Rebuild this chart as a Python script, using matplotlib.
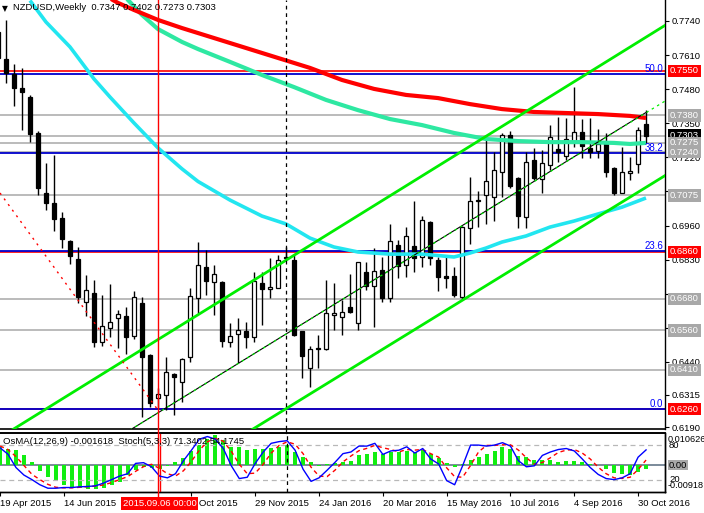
import matplotlib
matplotlib.use('Agg')
import matplotlib.pyplot as plt
import matplotlib.transforms as mtransforms
from matplotlib.lines import Line2D
import numpy as np
import pandas as pd

plt.rcParams['font.family'] = ['Liberation Sans', 'DejaVu Sans']

# ---------------- data ----------------
symbol_title = 'NZDUSD,Weekly  0.7347 0.7402 0.7273 0.7303'
ind_title = 'OsMA(12,26,9) -0.001618  Stoch(5,3,3) 71.3402 54.1745'
first_week = '2015-04-19'

opens = [0.7698,
         0.7595, 0.7538, 0.7484, 0.7450, 0.7313, 0.7084, 0.7046, 0.6989, 0.6901, 0.6832,
         0.6668, 0.6702, 0.6516, 0.6569, 0.6607, 0.6615, 0.6538, 0.6664, 0.6466, 0.6302,
         0.6313, 0.6394, 0.6363, 0.6458, 0.6683, 0.6802, 0.6744, 0.6744, 0.6516, 0.6546,
         0.6558, 0.6535, 0.6741, 0.6718, 0.6722, 0.6840, 0.6828, 0.6558, 0.6416, 0.6493,
         0.6489, 0.6619, 0.6611, 0.6649, 0.6588, 0.6783, 0.6729, 0.6790, 0.6683, 0.6886,
         0.6809, 0.6882, 0.6840, 0.6973, 0.6828, 0.6767, 0.6767, 0.6687, 0.6950, 0.7053,
         0.7076, 0.7069, 0.7164, 0.7305, 0.7141, 0.6992, 0.7210, 0.7137, 0.7191, 0.7252,
         0.7225, 0.7278, 0.7317, 0.7256, 0.7244, 0.7275, 0.7179, 0.7084, 0.7160, 0.7195,
         0.7347]
highs = [0.7713,
         0.7744, 0.7576, 0.7561, 0.7458, 0.7320, 0.7198, 0.7229, 0.7011, 0.6905, 0.6878,
         0.6771, 0.6752, 0.6695, 0.6737, 0.6638, 0.6649, 0.6710, 0.6687, 0.6470, 0.6340,
         0.6458, 0.6397, 0.6455, 0.6722, 0.6897, 0.6866, 0.6809, 0.6750, 0.6588, 0.6607,
         0.6592, 0.6783, 0.6783, 0.6836, 0.6847, 0.6878, 0.6847, 0.6558, 0.6500, 0.6542,
         0.6752, 0.6741, 0.6676, 0.6775, 0.6821, 0.6821, 0.6874, 0.6840, 0.6966, 0.6905,
         0.6954, 0.7053, 0.6996, 0.6977, 0.6840, 0.6840, 0.6802, 0.6958, 0.7145, 0.7092,
         0.7301, 0.7240, 0.7313, 0.7320, 0.7145, 0.7240, 0.7256, 0.7248, 0.7343, 0.7374,
         0.7370, 0.7488, 0.7366, 0.7370, 0.7328, 0.7313, 0.7183, 0.7259, 0.7221, 0.7336,
         0.7402]
lows = [0.7591,
        0.7503, 0.7416, 0.7324, 0.7278, 0.7076, 0.7019, 0.6939, 0.6874, 0.6813, 0.6664,
        0.6615, 0.6497, 0.6500, 0.6535, 0.6493, 0.6470, 0.6527, 0.6230, 0.6268, 0.6264,
        0.6256, 0.6237, 0.6287, 0.6439, 0.6626, 0.6695, 0.6619, 0.6497, 0.6497, 0.6436,
        0.6493, 0.6516, 0.6580, 0.6683, 0.6722, 0.6828, 0.6538, 0.6378, 0.6344, 0.6416,
        0.6485, 0.6561, 0.6542, 0.6626, 0.6561, 0.6714, 0.6573, 0.6668, 0.6668, 0.6760,
        0.6764, 0.6783, 0.6802, 0.6809, 0.6710, 0.6722, 0.6687, 0.6676, 0.6889, 0.6954,
        0.6966, 0.6977, 0.7069, 0.7103, 0.6950, 0.6950, 0.7134, 0.7084, 0.7172, 0.7202,
        0.7210, 0.7259, 0.7217, 0.7217, 0.7217, 0.7145, 0.7076, 0.7084, 0.7134, 0.7160,
        0.7273]
closes = [0.7599,
          0.7542, 0.7484, 0.7469, 0.7309, 0.7103, 0.7046, 0.6985, 0.6908, 0.6844, 0.6687,
          0.6714, 0.6516, 0.6577, 0.6592, 0.6622, 0.6535, 0.6687, 0.6458, 0.6283, 0.6317,
          0.6401, 0.6382, 0.6451, 0.6691, 0.6809, 0.6748, 0.6775, 0.6519, 0.6539, 0.6561,
          0.6535, 0.6748, 0.6718, 0.6725, 0.6828, 0.6836, 0.6542, 0.6462, 0.6489, 0.6489,
          0.6626, 0.6626, 0.6630, 0.6630, 0.6821, 0.6729, 0.6786, 0.6683, 0.6901, 0.6805,
          0.6920, 0.6836, 0.6981, 0.6836, 0.6764, 0.6760, 0.6695, 0.6954, 0.7053, 0.7057,
          0.7130, 0.7172, 0.7305, 0.7111, 0.6996, 0.7202, 0.7141, 0.7198, 0.7297, 0.7240,
          0.7290, 0.7317, 0.7263, 0.7240, 0.7271, 0.7164, 0.7084, 0.7164, 0.7168, 0.7324,
          0.7303]

osma = [0.0058,
        0.0052, 0.0049, 0.0032, 0.0009, -0.0020, -0.0041, -0.0056, -0.0067, -0.0075, -0.0079,
        -0.0081, -0.0081, -0.0078, -0.0069, -0.0058, -0.0035, -0.0017, -0.0008, -0.0012, -0.0015,
        -0.0003, 0.0008, 0.0023, 0.0046, 0.0067, 0.0087, 0.0101, 0.0083, 0.0060, 0.0058,
        0.0049, 0.0052, 0.0054, 0.0056, 0.0060, 0.0067, 0.0044, 0.0025, 0.0008, -0.0006,
        0.0002, 0.0006, 0.0008, 0.0012, 0.0031, 0.0037, 0.0043, 0.0035, 0.0043, 0.0041,
        0.0046, 0.0044, 0.0049, 0.0035, 0.0021, 0.0006, -0.0009, 0.0003, 0.0014, 0.0025,
        0.0035, 0.0046, 0.0060, 0.0052, 0.0029, 0.0027, 0.0017, 0.0015, 0.0015, 0.0009,
        0.0012, 0.0012, 0.0008, 0.0002, -0.0001, -0.0015, -0.0029, -0.0031, -0.0035, -0.0025,
        -0.001618]
stoch_main = [75,
              64, 41.5, 28.7, 21, 12.3, 6.4, 6.4, 7.6, 7.6, 8.8,
              9.4, 10.5, 15.2, 21, 27, 31, 48.5, 49.7, 42.7, 27,
              24, 31, 53, 70.8, 89.5, 94, 89.5, 73.7, 44.4, 22.8,
              25, 48.5, 67.8, 82.5, 85.4, 87, 70.8, 38.6, 18, 24,
              36.8, 50.3, 65, 67.8, 77.8, 77.8, 82.5, 63.7, 69.6, 70.8,
              76.6, 66, 73.7, 56, 47.4, 19.3, 12.3, 44.4, 79.5, 79.5,
              77.8, 79.5, 83.6, 77.8, 53, 42.7, 44.4, 62, 67.8, 72,
              73.7, 69.6, 56, 41.5, 29.8, 22.8, 21, 24, 31, 59,
              71.34]
stoch_signal = [78,
                72, 60, 45, 30, 21, 13, 8, 7, 7, 8,
                9, 10, 12, 16, 21, 26, 35, 43, 47, 40,
                31, 27, 36, 52, 71, 85, 91, 86, 69, 47,
                31, 32, 47, 66, 79, 85, 81, 65, 42, 27,
                26, 37, 51, 61, 70, 74, 79, 75, 72, 68,
                72, 71, 72, 65, 59, 41, 26, 25, 45, 68,
                79, 79, 80, 80, 71, 58, 47, 50, 58, 67,
                71, 72, 66, 56, 42, 31, 24, 23, 25, 38,
                54.17]

# moving averages read at sampled weeks (week number from first_week)
ma_red_weeks = [13, 15, 17, 20, 23, 27, 31, 35, 39, 43, 47, 51, 55, 59, 63, 67, 71, 75, 79, 81]
ma_red = [0.7843, 0.7809, 0.7782, 0.7744, 0.7713, 0.7675, 0.7637, 0.7599, 0.7561, 0.7515,
          0.7481, 0.7458, 0.7446, 0.7423, 0.7404, 0.7393, 0.7389, 0.7385, 0.7378, 0.7370]
ma_green_weeks = [16, 18, 20, 23, 25, 29, 33, 37, 41, 45, 49, 53, 57, 61, 65, 69, 73, 77, 79, 81]
ma_green = [0.7828, 0.7763, 0.7709, 0.7660, 0.7633, 0.7584, 0.7534, 0.7488, 0.7439, 0.7400,
            0.7366, 0.7343, 0.7313, 0.7290, 0.7282, 0.7278, 0.7278, 0.7275, 0.7271, 0.7275]
ma_cyan_weeks = [4, 6, 9, 12, 14, 17, 20, 23, 25, 29, 33, 36, 39, 42, 45, 49, 53, 57, 59, 61,
                 63, 66, 69, 72, 75, 78, 81]
ma_cyan = [0.7818, 0.7736, 0.7641, 0.7519, 0.7450, 0.7351, 0.7256, 0.7176, 0.7128, 0.7057,
           0.6996, 0.6966, 0.6912, 0.6878, 0.6859, 0.6851, 0.6851, 0.6840, 0.6855, 0.6874,
           0.6897, 0.6920, 0.6954, 0.6977, 0.7004, 0.7030, 0.7065]

# trend / channel lines: (week, price) anchors
channel_upper = [(0, 0.6147), (84, 0.7735)]
channel_lower = [(29, 0.6130), (84, 0.7162)]
trend_mid = [(16.5, 0.6180), (81.1, 0.7393)]
trend_mid_ext = [(16.5, 0.6180), (83.4, 0.7435)]
trend_red = [(0.25, 0.7084), (20, 0.6256)]

# horizontal levels
gray_levels = [0.7380, 0.7303, 0.7275, 0.7240, 0.7075, 0.6680, 0.6560, 0.6410]
red_levels = [0.7550, 0.6860, 0.6260]
fib_low, fib_high = 0.6260, 0.8816
fib_levels = [0.0, 23.6, 38.2, 50.0]

price_ticks = [0.7740, 0.7610, 0.7480, 0.7350, 0.7220, 0.7090, 0.6960, 0.6830,
               0.6700, 0.6570, 0.6440, 0.6315, 0.6190]
hidden_tick_labels = [0.7090, 0.6700, 0.6570]
price_boxes = [(0.7550, 'red'), (0.7380, 'gray'), (0.7303, 'black'), (0.7275, 'gray'),
               (0.7240, 'gray'), (0.7075, 'gray'), (0.6860, 'red'), (0.6680, 'gray'),
               (0.6560, 'gray'), (0.6410, 'gray'), (0.6260, 'red')]

date_labels = ['2015-04-19', '2015-06-14', '2015-10-04', '2015-11-29', '2016-01-24',
               '2016-03-20', '2016-05-15', '2016-07-10', '2016-09-04', '2016-10-30']
cross_date = '2015-09-06'
dashed_date = '2015-12-27'

# ---------------- figure ----------------
W, H = 704, 513
fig = plt.figure(figsize=(W / 100, H / 100), dpi=100)
fig.patch.set_facecolor('white')

ax = fig.add_axes([0, 1 - 429 / H, 665 / W, 429 / H])
axi = fig.add_axes([0, 1 - 492 / H, 665 / W, 59 / H])
axs = axi.twinx()

weeks = pd.date_range(first_week, periods=len(opens), freq='7D')
def widx(d):
    return weeks.get_loc(pd.Timestamp(d))

xs = np.arange(len(opens))
o = np.array(opens); h = np.array(highs); l = np.array(lows); c = np.array(closes)

XL = (0.25, 83.375)
for a in (ax, axi, axs):
    a.set_xlim(*XL)
ax.set_ylim(0.6184, 0.7820)

# horizontal lines
for p in gray_levels:
    ax.axhline(p, color='#a8a8a8', lw=1.1, zorder=1)
for p in red_levels:
    ax.axhline(p, color='#ff0000', lw=1.2, zorder=1.2)
fib_prices = [fib_low + (fib_high - fib_low) * f / 100 for f in fib_levels]
tr_ry = mtransforms.blended_transform_factory(ax.transAxes, ax.transData)
for f, p in zip(fib_levels, fib_prices):
    ax.axhline(p, color='#0000cc', lw=1.3, zorder=1.3)
    ax.text(0.997, p, f'{f:.1f}', transform=tr_ry, ha='right', va='bottom',
            color='#0000ff', fontsize=7, zorder=9)

# candles
ax.vlines(xs, l, h, color='black', lw=1.0, zorder=3)
up = c >= o
ax.bar(xs, np.abs(c - o), bottom=np.minimum(o, c), width=0.62,
       color=np.where(up, 'white', 'black'), edgecolor='black', linewidth=0.9, zorder=4)

# moving averages
ax.plot(ma_cyan_weeks, ma_cyan, color='#22e6f0', lw=2.6, zorder=5, solid_capstyle='butt')
ax.plot(ma_green_weeks, ma_green, color='#2ee8a2', lw=3.0, zorder=5, solid_capstyle='butt')
ax.plot(ma_red_weeks, ma_red, color='#ff0000', lw=3.0, zorder=5, solid_capstyle='butt')

# channel lines
for ln in (channel_upper, channel_lower):
    ax.plot([p[0] for p in ln], [p[1] for p in ln], color='#00ee00', lw=2.0, zorder=6)
ax.plot([p[0] for p in trend_mid], [p[1] for p in trend_mid], color='black', lw=0.8, zorder=6)
ax.plot([p[0] for p in trend_mid_ext], [p[1] for p in trend_mid_ext], color='#00ee00',
        lw=0.9, ls=(0, (2, 3)), zorder=6.1)
ax.plot([p[0] for p in trend_red], [p[1] for p in trend_red], color='#ff0000', lw=1.0,
        ls=(0, (1.5, 3.5)), zorder=6)

# verticals
xc = widx(cross_date)
xd = widx(dashed_date)
for a in (ax, axi):
    a.axvline(xc, color='#ff0000', lw=1.0, zorder=8)
    a.axvline(xd, color='black', lw=0.9, ls=(0, (3, 3)), zorder=8)
tr_xf = mtransforms.blended_transform_factory(ax.transData, fig.transFigure)
fig.add_artist(Line2D([xc, xc], [1 - 497 / H, 1 - 429 / H], transform=tr_xf, color='#ff0000', lw=1.0))
fig.add_artist(Line2D([xd, xd], [1 - 433 / H, 1 - 429 / H], transform=tr_xf, color='black', lw=0.9))

# axes styling main
ax.spines['left'].set_visible(False)
ax.spines['top'].set_visible(False)
ax.spines['right'].set_linewidth(1.0)
ax.spines['bottom'].set_linewidth(1.2)
ax.set_xticks([])
ax.yaxis.tick_right()
ax.set_yticks(price_ticks)
ax.set_yticklabels(['' if t in hidden_tick_labels else f'{t:.4f}' for t in price_ticks])
ax.tick_params(axis='y', direction='out', length=3, width=0.8, labelsize=6.8, pad=2)

for p, col in price_boxes:
    fc = {'red': '#ff0000', 'gray': '#a8a8a8', 'black': '#000000'}[col]
    ax.annotate(f'{p:.4f}', xy=(1, p), xycoords=tr_ry, xytext=(5, 0), textcoords='offset pixels',
                ha='left', va='center', color='white', fontsize=6.8,
                bbox=dict(boxstyle='square,pad=0.18', fc=fc, ec='none'),
                annotation_clip=False, zorder=20)

# indicator pane
axi.set_ylim(-0.00918, 0.010626)
axs.set_ylim(0, 100)
axi.axhline(0, color='#7b8a9a', lw=1.4, zorder=1)
axi.bar(xs, osma, width=0.5, color='#11ee11', zorder=2)
axs.axhline(80, color='#b8b8b8', lw=0.9, ls=(0, (4, 3)), zorder=1)
axs.axhline(20, color='#b8b8b8', lw=0.9, ls=(0, (4, 3)), zorder=1)
axs.plot(xs, stoch_signal, color='#ff0000', lw=1.0, ls=(0, (3, 2.5)), zorder=3)
axs.plot(xs, stoch_main, color='#0000ff', lw=1.0, zorder=4)
for a in (axi, axs):
    a.set_yticks([])
    a.spines['left'].set_visible(False)
    a.spines['top'].set_linewidth(1.2)
    a.spines['right'].set_linewidth(1.0)
    a.spines['bottom'].set_linewidth(1.0)
pos = [widx(d) for d in date_labels]
axi.set_xticks(pos)
axi.set_xticklabels([])
axi.tick_params(axis='x', direction='out', length=3, width=0.8)
axs.tick_params(axis='x', length=0)

tr_xa = mtransforms.blended_transform_factory(axi.transData, axi.transAxes)
for d, p in zip(date_labels, pos):
    lab = pd.Timestamp(d).strftime('%d %b %Y').lstrip('0')
    axi.text(p, -0.19, lab, transform=tr_xa, ha='left', va='center', fontsize=6.8,
             clip_on=False, zorder=5)
axi.text(xc, -0.19, pd.Timestamp(cross_date).strftime('%Y.%m.%d %H:%M'), transform=tr_xa,
         ha='center', va='center', fontsize=6.8, color='white', clip_on=False, zorder=10,
         bbox=dict(boxstyle='square,pad=0.22', fc='#ff0000', ec='none'))

fig.text(13 / W, 1 - 8 / H, symbol_title, ha='left', va='center', fontsize=6.8)
fig.text(2 / W, 1 - 9 / H, '\u25BC', ha='left', va='center', fontsize=5.5, family='DejaVu Sans')
fig.text(3 / W, 1 - 441 / H, ind_title, ha='left', va='center', fontsize=6.8, zorder=10)

# indicator scale labels
fig.text(668 / W, 1 - 439 / H, '0.010626', ha='left', va='center', fontsize=6.6)
fig.text(669 / W, 1 - 446 / H, '80', ha='left', va='center', fontsize=6.8)
fig.text(669 / W, 1 - 465 / H, '0.00', ha='left', va='center', fontsize=6.8,
         bbox=dict(boxstyle='square,pad=0.1', fc='#a8a8a8', ec='none'))
fig.text(669 / W, 1 - 479 / H, '20', ha='left', va='center', fontsize=6.8)
fig.text(668 / W, 1 - 486 / H, '-0.00918', ha='left', va='center', fontsize=6.6)

fig.savefig('out.png', dpi=100, facecolor='white')
